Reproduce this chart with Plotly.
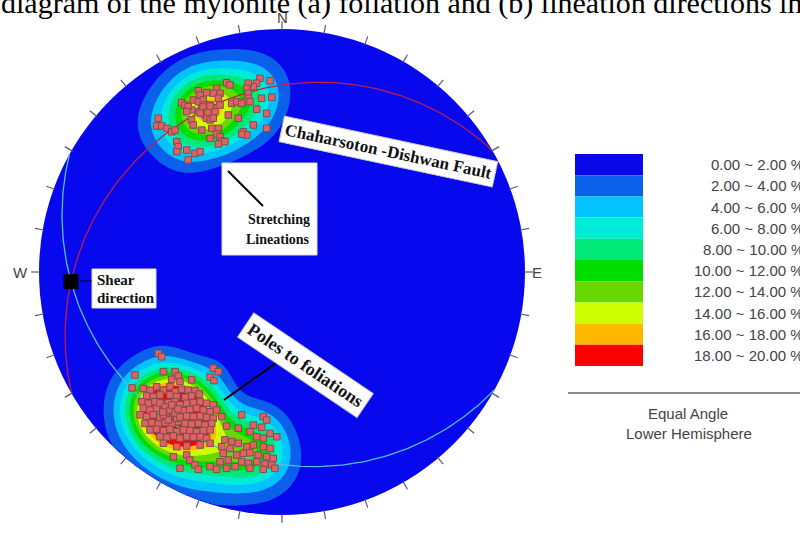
import numpy as np
import plotly.graph_objects as go

# ---------------- data (equal-angle, lower-hemisphere projected coords; unit = primitive radius) -------------
# stretching lineations (upper cluster)
lin_x = [-0.091, -0.049, -0.104, -0.118, -0.139, -0.145, -0.228, -0.214, -0.269, -0.283,
         -0.255, -0.344, -0.337, -0.310, -0.139, -0.139, -0.152, -0.132, -0.084, -0.042,
         -0.207, -0.186, -0.166, -0.413, -0.399, -0.365, -0.344, -0.324, -0.317, -0.330,
         -0.296, -0.289, -0.262, -0.255, -0.276, -0.310, -0.317, -0.310, -0.296, -0.283,
         -0.344, -0.372, -0.386, -0.372, -0.365, -0.392, -0.221, -0.180, -0.104, -0.063,
         -0.118, -0.063, -0.509, -0.516, -0.495, -0.474, -0.454, -0.440, -0.330, -0.289,
         -0.262, -0.269, -0.255, -0.248, -0.296, -0.235, -0.262, -0.159, -0.145, -0.166,
         -0.433, -0.427, -0.433, -0.392, -0.358, -0.337, -0.386,
         -0.325, -0.305, -0.337, -0.296]
lin_y = [0.797, 0.787, 0.777, 0.763, 0.777, 0.756, 0.779, 0.770, 0.756, 0.735,
         0.735, 0.746, 0.728, 0.738, 0.735, 0.715, 0.701, 0.701, 0.715, 0.719,
         0.694, 0.701, 0.694, 0.697, 0.687, 0.708, 0.701, 0.708, 0.687, 0.674,
         0.687, 0.674, 0.715, 0.687, 0.660, 0.660, 0.646, 0.633, 0.626, 0.633,
         0.660, 0.667, 0.680, 0.626, 0.605, 0.660, 0.646, 0.633, 0.670, 0.653,
         0.605, 0.591, 0.633, 0.601, 0.601, 0.591, 0.577, 0.584, 0.584, 0.591,
         0.591, 0.568, 0.557, 0.539, 0.550, 0.536, 0.527, 0.577, 0.564, 0.567,
         0.536, 0.516, 0.495, 0.502, 0.488, 0.495, 0.461,
         0.679, 0.658, 0.654, 0.683]

# poles to foliations (lower cluster)
pole_x = [-0.509, -0.495, -0.283, -0.262, -0.605, -0.617, -0.488, -0.440, -0.427, -0.454,
          -0.420, -0.372, -0.296, -0.280, -0.571, -0.543, -0.516, -0.488, -0.461, -0.440,
          -0.413, -0.386, -0.358, -0.340, -0.372, -0.399, -0.433, -0.461, -0.502, -0.530,
          -0.557,
          -0.577, -0.550, -0.523, -0.495, -0.468, -0.440, -0.420, -0.392, -0.365, -0.337, -0.310, -0.283,
          -0.571, -0.543, -0.516, -0.488, -0.461, -0.433, -0.406, -0.379, -0.351, -0.324, -0.296, -0.269,
          -0.584, -0.557, -0.530, -0.502, -0.474, -0.447, -0.420, -0.392, -0.365, -0.337, -0.310, -0.283, -0.248,
          -0.564, -0.536, -0.509, -0.481, -0.454, -0.427, -0.399, -0.372, -0.344, -0.317, -0.289,
          -0.543, -0.516, -0.488, -0.461, -0.433, -0.406, -0.379, -0.351, -0.324, -0.296,
          -0.502, -0.474, -0.447, -0.420, -0.392, -0.365, -0.337, -0.310,
          -0.474, -0.447, -0.468, -0.433, -0.488, -0.454,
          -0.502, -0.481, -0.461, -0.440, -0.420, -0.490, -0.453, -0.428,
          -0.166, -0.077, -0.063, -0.228, -0.180, -0.118, -0.084, -0.132, -0.049, -0.022,
          -0.104, -0.077, -0.235, -0.207, -0.180, -0.248, -0.214, -0.145, -0.118, -0.077,
          -0.049, -0.242, -0.186, -0.159, -0.132, -0.098, -0.063, -0.036, -0.255, -0.221,
          -0.166, -0.139, -0.104, -0.070, -0.042, -0.228, -0.193, -0.132, -0.077, -0.029,
          -0.447, -0.392, -0.379, -0.358, -0.344, -0.420, -0.296, -0.269, -0.488, -0.433,
          -0.392, -0.337, -0.296]
pole_y = [-0.335, -0.349, -0.396, -0.410, -0.424, -0.477, -0.410, -0.410, -0.428, -0.442,
          -0.451, -0.444, -0.433, -0.447, -0.479, -0.486, -0.472, -0.486, -0.472, -0.493,
          -0.483, -0.486, -0.488, -0.502, -0.510, -0.516, -0.513, -0.506, -0.506, -0.513,
          -0.510,
          -0.534, -0.540, -0.534, -0.540, -0.538, -0.534, -0.547, -0.540, -0.538, -0.534, -0.540, -0.547,
          -0.561, -0.568, -0.561, -0.568, -0.565, -0.575, -0.571, -0.565, -0.561, -0.568, -0.575, -0.568,
          -0.588, -0.595, -0.588, -0.598, -0.593, -0.588, -0.598, -0.593, -0.595, -0.593, -0.598, -0.602, -0.595,
          -0.623, -0.620, -0.626, -0.620, -0.623, -0.616, -0.623, -0.626, -0.623, -0.630, -0.623,
          -0.650, -0.647, -0.653, -0.647, -0.657, -0.650, -0.653, -0.657, -0.653, -0.650,
          -0.678, -0.680, -0.675, -0.684, -0.678, -0.680, -0.678, -0.684,
          -0.575, -0.581, -0.609, -0.602, -0.588, -0.561,
          -0.539, -0.556, -0.568, -0.580, -0.597, -0.576, -0.547, -0.564,
          -0.588, -0.595, -0.609, -0.634, -0.643, -0.630, -0.639, -0.657, -0.664, -0.678,
          -0.678, -0.684, -0.691, -0.698, -0.705, -0.719, -0.726, -0.719, -0.712, -0.719,
          -0.726, -0.746, -0.753, -0.746, -0.744, -0.753, -0.760, -0.767, -0.781, -0.774,
          -0.781, -0.787, -0.781, -0.790, -0.794, -0.808, -0.801, -0.808, -0.812, -0.808,
          -0.760, -0.753, -0.774, -0.794, -0.812, -0.808, -0.801, -0.812, -0.705, -0.719,
          -0.716, -0.712, -0.705]

assert len(lin_x) == len(lin_y)
assert len(pole_x) == len(pole_y)

fault_plane = (240, 17)        # strike (right-hand rule), dip : Chaharsoton-Dishwan Fault (red)
foliation_plane = (119, 15)    # strike (right-hand rule), dip : girdle (teal)

density_levels = [0, 2, 4, 6, 8, 10, 12, 14, 16, 18, 20]
density_colors = ["rgb(8,8,235)", "rgb(10,95,235)", "rgb(0,195,255)", "rgb(0,235,215)",
                  "rgb(0,232,120)", "rgb(0,222,0)", "rgb(105,215,0)", "rgb(205,255,0)",
                  "rgb(255,185,0)", "rgb(255,0,0)"]
legend_labels = ["%.2f ~ %.2f %%" % (density_levels[i], density_levels[i + 1]) for i in range(10)]
compass_labels = ["N", "E", "S", "W"]
tick_azimuths = list(range(0, 360, 10))
kernel_k = 78.0          # Fisher-type smoothing concentration
count_area = 0.0155      # counting area as a fraction of the hemisphere

# ---------------- helpers ----------------
W, H = 800, 535
CX, CY, R = 282, 272, 243           # where the primitive circle sits on the page (px)


def px(x):
    return x / W


def py(y):
    return 1 - y / H


def to_vec(x, y):
    x = np.asarray(x, float)
    y = np.asarray(y, float)
    r2 = x * x + y * y
    return np.stack([2 * x / (1 + r2), 2 * y / (1 + r2), (1 - r2) / (1 + r2)], axis=-1)


def plane_vectors(strike, dip):
    s = np.radians(strike)
    d = np.radians(dip)
    dd = s + np.pi / 2
    sv = np.array([np.sin(s), np.cos(s), 0.0])
    dv = np.array([np.sin(dd) * np.cos(d), np.cos(dd) * np.cos(d), np.sin(d)])
    return sv, dv


def great_circle(strike, dip, n=241):
    sv, dv = plane_vectors(strike, dip)
    phi = np.linspace(0, np.pi, n)
    v = np.outer(np.cos(phi), sv) + np.outer(np.sin(phi), dv)
    return v[:, 0] / (1 + v[:, 2]), v[:, 1] / (1 + v[:, 2])


# ---------------- density (% of points per counting area) ----------------
all_x = np.array(lin_x + pole_x)
all_y = np.array(lin_y + pole_y)
D = to_vec(all_x, all_y)
gx = np.linspace(-1, 1, 321)
gy = np.linspace(-1, 1, 321)
GX, GY = np.meshgrid(gx, gy)
G = to_vec(GX, GY)
acc = np.zeros(GX.shape)
for v in D:
    c = G @ v
    acc += np.exp(kernel_k * (c - 1))
dens = 100 * count_area * kernel_k * acc / len(D)
dens[GX ** 2 + GY ** 2 > 1] = 0
dens = np.round(dens, 2)

# stepped colour scale (lowest band transparent: the disk itself is drawn as a shape)
cols = ["rgba(0,0,0,0)"] + density_colors[1:]
cs = [[0, cols[0]]]
for k in range(9):
    b = (2 * k + 1.5) / 18
    cs.append([b, cols[k]])
    cs.append([b, cols[k + 1]])
cs.append([1, cols[9]])

fig = go.Figure()
fig.add_trace(go.Contour(
    x=gx, y=gy, z=dens, autocontour=False,
    contours=dict(start=2, end=18, size=2, coloring="fill", showlines=False),
    line=dict(width=0), colorscale=cs, showscale=False, hoverinfo="skip"))

# great circles
for (st, dp), colr, wd in [(fault_plane, "rgb(196,30,72)", 1.2), (foliation_plane, "rgb(80,195,220)", 1.3)]:
    x, y = great_circle(st, dp)
    fig.add_trace(go.Scatter(x=x, y=y, mode="lines", line=dict(color=colr, width=wd), hoverinfo="skip"))

# data points
mk = dict(symbol="square", size=6.5, color="rgb(226,98,98)", line=dict(color="rgb(125,80,80)", width=1))
fig.add_trace(go.Scatter(x=lin_x, y=lin_y, mode="markers", marker=mk, hoverinfo="skip"))
fig.add_trace(go.Scatter(x=pole_x, y=pole_y, mode="markers", marker=mk, hoverinfo="skip"))

# shear direction = intersection of the two planes
s1, d1 = plane_vectors(*fault_plane)
s2, d2 = plane_vectors(*foliation_plane)
L = np.cross(np.cross(s1, d1), np.cross(s2, d2))
L = L / np.linalg.norm(L)
if L[2] < 0:
    L = -L
shear_x, shear_y = L[0] / (1 + L[2]), L[1] / (1 + L[2])
fig.add_trace(go.Scatter(x=[shear_x], y=[shear_y], mode="markers",
                         marker=dict(symbol="square", size=15, color="black"), hoverinfo="skip"))

# primitive ticks
tx, ty = [], []
for az in tick_azimuths:
    a = np.radians(az)
    for r in (0.995, 1.032):
        tx.append(r * np.sin(a))
        ty.append(r * np.cos(a))
    tx.append(None)
    ty.append(None)
fig.add_trace(go.Scatter(x=tx, y=ty, mode="lines", line=dict(color="rgb(90,90,125)", width=1.2),
                         hoverinfo="skip"))

shapes = [dict(type="circle", xref="x", yref="y", x0=-1, y0=-1, x1=1, y1=1,
               fillcolor="rgb(8,8,238)", line=dict(width=0), layer="below")]

annotations = []


def ann(x, y, text, size, family="Liberation Sans", color="#444", xanchor="center", ref="paper", **kw):
    d = dict(x=x, y=y, xref=ref, yref=ref, text=text, showarrow=False, xanchor=xanchor, yanchor="middle",
             font=dict(family=family, size=size, color=color))
    d.update(kw)
    annotations.append(d)


# compass letters (data coordinates, just outside the primitive)
for lab, (x, y) in zip(compass_labels, [(0, 1.049), (1.049, 0), (0, -1.086), (-1.078, 0)]):
    ann(x, y, lab, 15, ref="x")
    annotations[-1]["yref"] = "y"

# label boxes
serif = "Liberation Serif"
ink = "#111"
shapes.append(dict(type="rect", xref="paper", yref="paper", x0=px(222), x1=px(317), y0=py(255), y1=py(163),
                   fillcolor="white", line=dict(color="#ddd", width=1)))
shapes.append(dict(type="line", xref="paper", yref="paper", x0=px(228), y0=py(171), x1=px(263), y1=py(206),
                   line=dict(color="black", width=2)))
ann(px(279), py(219), "<b>Stretching</b>", 14, serif, ink)
ann(px(278), py(239), "<b>Lineations</b>", 14, serif, ink)

shapes.append(dict(type="rect", xref="paper", yref="paper", x0=px(92), x1=px(156), y0=py(308), y1=py(269),
                   fillcolor="white", line=dict(color="#ddd", width=1)))
shapes.append(dict(type="line", xref="paper", yref="paper", x0=px(80), y0=py(281), x1=px(92), y1=py(281),
                   line=dict(color="black", width=1)))
ann(px(95), py(280), "<b>Shear</b>", 15, serif, ink, xanchor="left")
ann(px(95), py(298), "<b>direction</b>", 15, serif, ink, xanchor="left")

ann(px(388), py(151), "<b>Chaharsoton -Dishwan Fault</b>", 17, serif, ink, textangle=12,
    bgcolor="white", borderpad=3, bordercolor="#ccc", borderwidth=1)

shapes.append(dict(type="line", xref="paper", yref="paper", x0=px(224), y0=py(400), x1=px(286), y1=py(356),
                   line=dict(color="black", width=2)))
ann(px(305), py(365), "<b>Poles to foliations</b>", 18, serif, ink, textangle=34,
    bgcolor="white", borderpad=4, bordercolor="#ccc", borderwidth=1)

# colour legend
band_top, band_h = 154, 21.2
for i in range(10):
    y0 = band_top + band_h * i
    shapes.append(dict(type="rect", xref="paper", yref="paper", x0=px(575), x1=px(643),
                       y0=py(y0 + band_h), y1=py(y0), fillcolor=density_colors[i], line=dict(width=0)))
    ann(px(806), py(y0 + band_h / 2), legend_labels[i], 15, xanchor="right")
shapes.append(dict(type="line", xref="paper", yref="paper", x0=px(568), x1=px(805), y0=py(393), y1=py(393),
                   line=dict(color="#666", width=1.5)))
ann(px(688), py(413), "Equal Angle", 15)
ann(px(689), py(433), "Lower Hemisphere", 15)

# cropped caption line at the very top
ann(px(-1), py(3), "diagram of the mylonite (a) foliation and (b) lineation directions in", 30, serif,
    "black", xanchor="left")

fig.update_layout(
    width=W, height=H, margin=dict(l=0, r=0, t=0, b=0),
    paper_bgcolor="white", plot_bgcolor="white", showlegend=False,
    xaxis=dict(range=[(0 - CX) / R, (W - CX) / R], visible=False, domain=[0, 1], fixedrange=True),
    yaxis=dict(range=[(CY - H) / R, CY / R], visible=False, domain=[0, 1], fixedrange=True),
    shapes=shapes, annotations=annotations)

fig.write_html("out.html", config={"displayModeBar": False},
               post_script="document.body.style.margin='0';")
